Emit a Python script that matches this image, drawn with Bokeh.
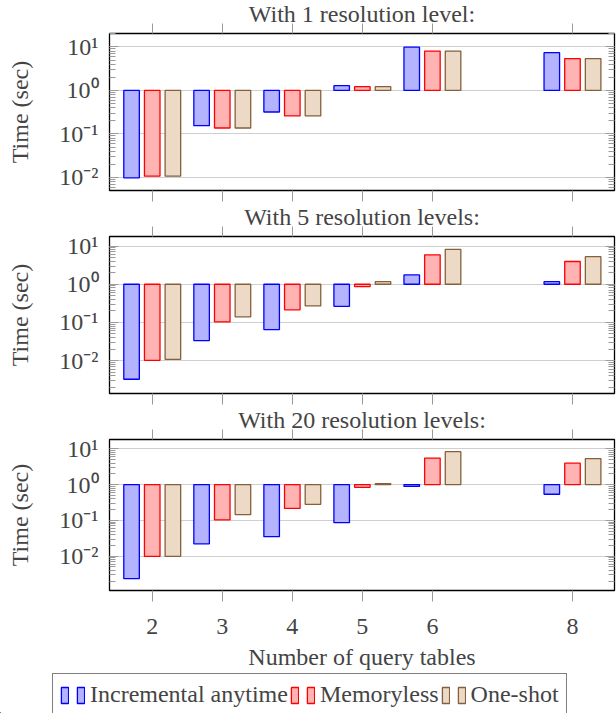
from bokeh.plotting import figure
from bokeh.models import (FixedTicker, LinearAxis, LogAxis, Range1d, Legend,
                          LegendItem, ColumnDataSource)
from bokeh.layouts import column
from bokeh.transform import dodge
from bokeh.embed import file_html
from bokeh.resources import INLINE

# ---------------- data ----------------
query_tables = [2, 3, 4, 5, 6, 8]
series_names = ["Incremental anytime", "Memoryless", "One-shot"]
panel_titles = ["With 1 resolution level:", "With 5 resolution levels:",
                "With 20 resolution levels:"]

p1_incremental = [0.0098, 0.155, 0.32, 1.29, 9.9, 7.4]
p1_memoryless = [0.0107, 0.137, 0.26, 1.22, 8.07, 5.4]
p1_oneshot = [0.0107, 0.137, 0.26, 1.22, 8.07, 5.4]

p2_incremental = [0.00326, 0.0336, 0.065, 0.264, 1.75, 1.17]
p2_memoryless = [0.0102, 0.103, 0.214, 0.87, 5.9, 3.94]
p2_oneshot = [0.0108, 0.14, 0.27, 1.17, 8.2, 5.26]

p3_incremental = [0.00234, 0.0221, 0.035, 0.086, 0.89, 0.537]
p3_memoryless = [0.0098, 0.103, 0.215, 0.836, 5.5, 3.96]
p3_oneshot = [0.0099, 0.144, 0.28, 1.06, 8.3, 5.33]

y_tick_values = [0.01, 0.1, 1, 10]
y_tick_labels = ["10\u207b\u00b2", "10\u207b\u00b9", "10\u2070", "10\u00b9"]
x_axis_label = "Number of query tables"
y_axis_label = "Time (sec)"

# ---------------- style ----------------
FONT = "Liberation Serif"
FS = "24px"
TICK_COLOR = "#9a9a9a"
line_colors = ["#0000ff", "#ff0000", "#84603c"]
fill_colors = ["#b3b3ff", "#ffb3b3", "#ecd9c6"]
offsets = [-0.295, 0.0, 0.295]
BAR_W = 0.222
y_minor = [m * 10.0 ** k for k in range(-4, 2) for m in range(2, 10)]

y_ranges = [(10 ** -2.30, 10 ** 1.31), (10 ** -2.86, 10 ** 1.25),
            (10 ** -2.96, 10 ** 1.26)]
heights = [203, 203, 266]
border_top = [33, 33, 33]
border_bottom = [13, 13, 76]
FRAME_LEFT = 109

panel_data = [
    (p1_incremental, p1_memoryless, p1_oneshot),
    (p2_incremental, p2_memoryless, p2_oneshot),
    (p3_incremental, p3_memoryless, p3_oneshot),
]


def hide_labels(ax):
    ax.major_label_text_font_size = "1px"
    ax.major_label_text_color = None
    ax.major_label_standoff = 0


def make_panel(i):
    last = i == 2
    p = figure(width=616, height=heights[i], x_range=Range1d(1.39, 8.6),
               y_range=Range1d(*y_ranges[i]), y_axis_type="log",
               output_backend="svg", toolbar_location=None,
               min_border_left=FRAME_LEFT, min_border_right=2,
               min_border_top=border_top[i], min_border_bottom=border_bottom[i])
    p.title.text = panel_titles[i]
    p.title.align = "center"
    p.title.text_font = FONT
    p.title.text_font_size = FS
    p.title.text_font_style = "normal"
    p.title.standoff = -7

    inc, mem, one = panel_data[i]
    src = ColumnDataSource(dict(x=query_tables, inc=inc, mem=mem, one=one))
    for k, col in enumerate(["inc", "mem", "one"]):
        p.vbar(x=dodge("x", offsets[k], range=p.x_range), top=col, bottom=1,
               width=BAR_W, source=src, fill_color=fill_colors[k],
               line_color=line_colors[k], line_width=1.3)

    p.outline_line_color = "black"
    p.outline_line_width = 1.3
    p.xgrid.visible = False
    p.ygrid.ticker = FixedTicker(ticks=y_tick_values)
    p.ygrid.grid_line_color = "#cfcfcf"
    p.ygrid.grid_line_width = 1.2

    # left axis
    ya = p.yaxis[0]
    ya.ticker = FixedTicker(ticks=y_tick_values, minor_ticks=y_minor)
    ya.major_label_overrides = dict(zip(y_tick_values, y_tick_labels))
    ya.major_label_text_font = FONT
    ya.major_label_text_font_size = FS
    ya.major_label_standoff = 11
    ya.axis_line_color = None
    ya.major_tick_in = 9
    ya.major_tick_out = 0
    ya.minor_tick_in = 6
    ya.minor_tick_out = 0
    ya.major_tick_line_color = TICK_COLOR
    ya.minor_tick_line_color = TICK_COLOR
    ya.axis_label = y_axis_label
    ya.axis_label_text_font = FONT
    ya.axis_label_text_font_size = FS
    ya.axis_label_text_font_style = "normal"
    ya.axis_label_standoff = 23

    # right axis (ticks only)
    ra = LogAxis(ticker=FixedTicker(ticks=y_tick_values, minor_ticks=y_minor),
                 axis_line_color=None, major_tick_in=9, major_tick_out=0,
                 minor_tick_in=6, minor_tick_out=0,
                 major_tick_line_color=TICK_COLOR, minor_tick_line_color=TICK_COLOR)
    hide_labels(ra)
    p.add_layout(ra, "right")

    # bottom axis
    xa = p.xaxis[0]
    xa.ticker = FixedTicker(ticks=query_tables)
    xa.axis_line_color = None
    xa.major_tick_in = 0
    xa.major_tick_out = 11
    xa.major_tick_line_color = TICK_COLOR
    xa.minor_tick_line_color = None
    if last:
        xa.major_label_text_font = FONT
        xa.major_label_text_font_size = FS
        xa.major_label_standoff = 17
        xa.axis_label = x_axis_label
        xa.axis_label_text_font = FONT
        xa.axis_label_text_font_size = FS
        xa.axis_label_text_font_style = "normal"
        xa.axis_label_standoff = 7
    else:
        hide_labels(xa)

    # top axis (ticks only)
    ta = LinearAxis(ticker=FixedTicker(ticks=query_tables),
                    axis_line_color=None, major_tick_in=0, major_tick_out=10,
                    major_tick_line_color=TICK_COLOR, minor_tick_line_color=None)
    hide_labels(ta)
    p.add_layout(ta, "above")
    return p, src


built = [make_panel(i) for i in range(3)]
panels = [b[0] for b in built]
src3 = built[2][1]

# ---------------- legend ----------------
LEG_H = 713 - sum(heights)
leg = figure(width=616, height=LEG_H, x_range=Range1d(100, 101),
             y_range=Range1d(100, 101),
             output_backend="svg", toolbar_location=None,
             x_axis_location=None, y_axis_location=None,
             min_border=0, min_border_left=0, min_border_right=0,
             min_border_top=0, min_border_bottom=0)
leg_x = 52
if "frame_align" in leg.properties():
    leg.frame_align = False
else:
    leg_x = 52 - FRAME_LEFT
leg.outline_line_color = None
leg.grid.visible = False
items = []
for k, col in enumerate(["inc", "mem", "one"]):
    # same data as the last panel, outside this strip's range: only the
    # legend swatches are visible
    r = leg.vbar(x="x", top=col, bottom=1, width=0.1, source=src3,
                 fill_color=fill_colors[k], line_color=line_colors[k],
                 line_width=1.3)
    items.append(LegendItem(label="", renderers=[r]))
    items.append(LegendItem(label=series_names[k], renderers=[r]))
legend = Legend(items=items, orientation="horizontal",
                location=(leg_x, LEG_H - 44),
                glyph_width=9, glyph_height=20, label_standoff=5, spacing=2,
                label_width=0, padding=7, margin=0,
                border_line_color="black", border_line_width=1.2,
                label_text_font=FONT, label_text_font_size=FS,
                background_fill_alpha=1.0)
leg.add_layout(legend)

layout = column(*panels, leg, spacing=0)
open("out.html", "w").write(file_html(layout, INLINE))
